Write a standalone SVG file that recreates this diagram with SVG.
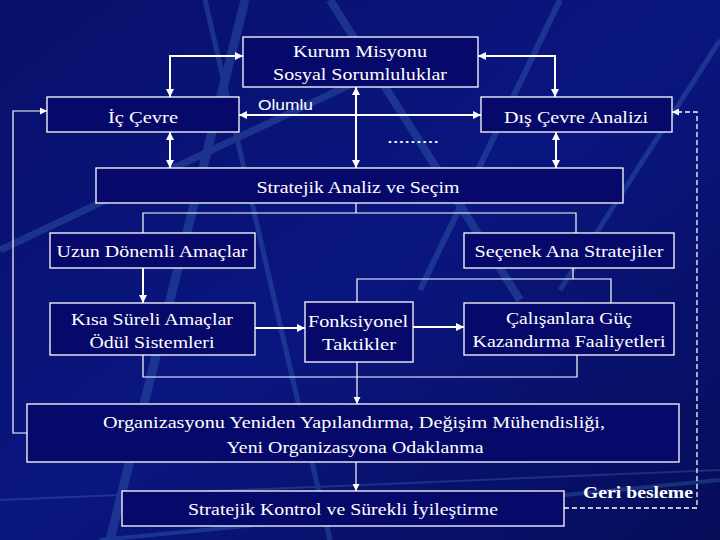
<svg xmlns="http://www.w3.org/2000/svg" width="720" height="540" viewBox="0 0 720 540">
<defs>
<linearGradient id="bg" x1="0" y1="0" x2="1" y2="1">
<stop offset="0" stop-color="#08106a"/>
<stop offset="0.5" stop-color="#0a1680"/>
<stop offset="1" stop-color="#050d58"/>
</linearGradient>
<marker id="ah" viewBox="0 0 8 8" refX="8" refY="4" markerWidth="8" markerHeight="8" markerUnits="userSpaceOnUse" orient="auto-start-reverse">
<path d="M0,0 L8,4 L0,8 z" fill="#fff"/>
</marker>
<marker id="as" viewBox="0 0 8 8" refX="8" refY="4" markerWidth="7" markerHeight="7" markerUnits="userSpaceOnUse" orient="auto-start-reverse">
<path d="M0,0 L8,4 L0,8 z" fill="#fff"/>
</marker>
</defs>
<style>
.box{fill:#06086a;stroke:#fff;stroke-width:1.3}
.t{font-family:"Liberation Serif","Times New Roman",serif;font-size:17px;fill:#fff;text-anchor:middle}
.s{font-family:"Liberation Sans",Arial,sans-serif;font-size:15px;fill:#fff}
.c{fill:none;stroke:#fff;stroke-width:2}
.thin{fill:none;stroke:#fff;stroke-width:1.2}
.dash{fill:none;stroke:#fff;stroke-width:1.3;stroke-dasharray:5,3}
</style>
<rect width="720" height="540" fill="url(#bg)"/>
<g id="background" opacity="0.28" fill="none" stroke="#4a86c8">
<path d="M110,540 L245,0" stroke-width="9"/>
<path d="M205,0 L330,540" stroke-width="5"/>
<path d="M0,250 L360,80" stroke-width="7"/>
<path d="M330,0 L520,300" stroke-width="8"/>
<path d="M420,290 L560,0" stroke-width="6"/>
<path d="M560,290 L720,40" stroke-width="5"/>
<path d="M0,500 L720,470" stroke-width="2"/>
<path d="M100,540 L720,480" stroke-width="4"/>
</g>
<g id="connectors">
<path class="c" d="M243,56 H170 V97" marker-start="url(#ah)" marker-end="url(#ah)"/>
<path class="c" d="M478,56 H555 V97" marker-start="url(#ah)" marker-end="url(#ah)"/>
<path class="c" d="M239,115 H481" marker-start="url(#ah)" marker-end="url(#ah)"/>
<path class="c" d="M356,87 V168" marker-start="url(#ah)" marker-end="url(#ah)"/>
<path class="c" d="M170,132 V168" marker-start="url(#ah)" marker-end="url(#ah)"/>
<path class="c" d="M556,132 V168" marker-start="url(#ah)" marker-end="url(#ah)"/>
<path class="thin" d="M356,203 V213"/>
<path class="thin" d="M143,233 V213 H576 V233"/>
<path class="c" d="M143,268 V303" marker-end="url(#ah)"/>
<path class="c" d="M255,328 H305" marker-end="url(#ah)"/>
<path class="c" d="M413,327 H464" marker-end="url(#ah)"/>
<path class="thin" d="M573,268 V279"/>
<path class="thin" d="M357,302 V279 H611 V303"/>
<path class="thin" d="M143,355 V377 H577 V355"/>
<path class="thin" d="M357,362 V377"/>
<path class="thin" d="M357,377 V404" marker-end="url(#as)"/>
<path class="thin" d="M356,462 V491" marker-end="url(#as)"/>
<path class="thin" d="M27,433 H13 V111 H47" marker-end="url(#as)"/>
<path class="dash" d="M564,508 H697 V112 H672" marker-end="url(#as)"/>
</g>
<g id="kurum">
<rect class="box" x="243" y="37" width="235" height="50"/>
<text class="t" x="360" y="57" textLength="134" lengthAdjust="spacingAndGlyphs">Kurum Misyonu</text>
<text class="t" x="360" y="80" textLength="174" lengthAdjust="spacingAndGlyphs">Sosyal Sorumluluklar</text>
</g>
<g id="ic">
<rect class="box" x="47" y="97" width="192" height="35"/>
<text class="t" x="143" y="123" textLength="70" lengthAdjust="spacingAndGlyphs">İç Çevre</text>
</g>
<g id="dis">
<rect class="box" x="481" y="97" width="191" height="35"/>
<text class="t" x="576" y="123" textLength="144" lengthAdjust="spacingAndGlyphs">Dış Çevre Analizi</text>
</g>
<g id="olumlu">
<text class="s" x="258" y="110" textLength="55" lengthAdjust="spacingAndGlyphs">Olumlu</text>
<text class="t" x="413" y="143" textLength="52" lengthAdjust="spacingAndGlyphs">.........</text>
</g>
<g id="stratejik">
<rect class="box" x="96" y="168" width="527" height="35"/>
<text class="t" x="358" y="193" textLength="203" lengthAdjust="spacingAndGlyphs">Stratejik Analiz ve Seçim</text>
</g>
<g id="uzun">
<rect class="box" x="50" y="233" width="205" height="35"/>
<text class="t" x="152" y="257" textLength="191" lengthAdjust="spacingAndGlyphs">Uzun Dönemli Amaçlar</text>
</g>
<g id="secenek">
<rect class="box" x="464" y="233" width="210" height="35"/>
<text class="t" x="569" y="257" textLength="189" lengthAdjust="spacingAndGlyphs">Seçenek Ana Stratejiler</text>
</g>
<g id="kisa">
<rect class="box" x="50" y="303" width="205" height="52"/>
<text class="t" x="152" y="325" textLength="162" lengthAdjust="spacingAndGlyphs">Kısa Süreli Amaçlar</text>
<text class="t" x="152" y="348" textLength="125" lengthAdjust="spacingAndGlyphs">Ödül Sistemleri</text>
</g>
<g id="fonksiyonel">
<rect class="box" x="305" y="302" width="108" height="60"/>
<text class="t" x="358" y="327" textLength="100" lengthAdjust="spacingAndGlyphs">Fonksiyonel</text>
<text class="t" x="359" y="350" textLength="74" lengthAdjust="spacingAndGlyphs">Taktikler</text>
</g>
<g id="calisanlar">
<rect class="box" x="464" y="303" width="210" height="52"/>
<text class="t" x="569" y="324" textLength="126" lengthAdjust="spacingAndGlyphs">Çalışanlara Güç</text>
<text class="t" x="569" y="347" textLength="193" lengthAdjust="spacingAndGlyphs">Kazandırma Faaliyetleri</text>
</g>
<g id="organizasyon">
<rect class="box" x="27" y="404" width="652" height="58"/>
<text class="t" x="354" y="428" textLength="502" lengthAdjust="spacingAndGlyphs">Organizasyonu Yeniden Yapılandırma, Değişim Mühendisliği,</text>
<text class="t" x="355" y="453" textLength="257" lengthAdjust="spacingAndGlyphs">Yeni Organizasyona Odaklanma</text>
</g>
<g id="kontrol">
<rect class="box" x="122" y="491" width="442" height="35"/>
<text class="t" x="343" y="515" textLength="310" lengthAdjust="spacingAndGlyphs">Stratejik Kontrol ve Sürekli İyileştirme</text>
</g>
<g id="geri">
<text class="t" x="638" y="498" font-size="18" font-weight="bold" textLength="110" lengthAdjust="spacingAndGlyphs">Geri besleme</text>
</g>
</svg>
